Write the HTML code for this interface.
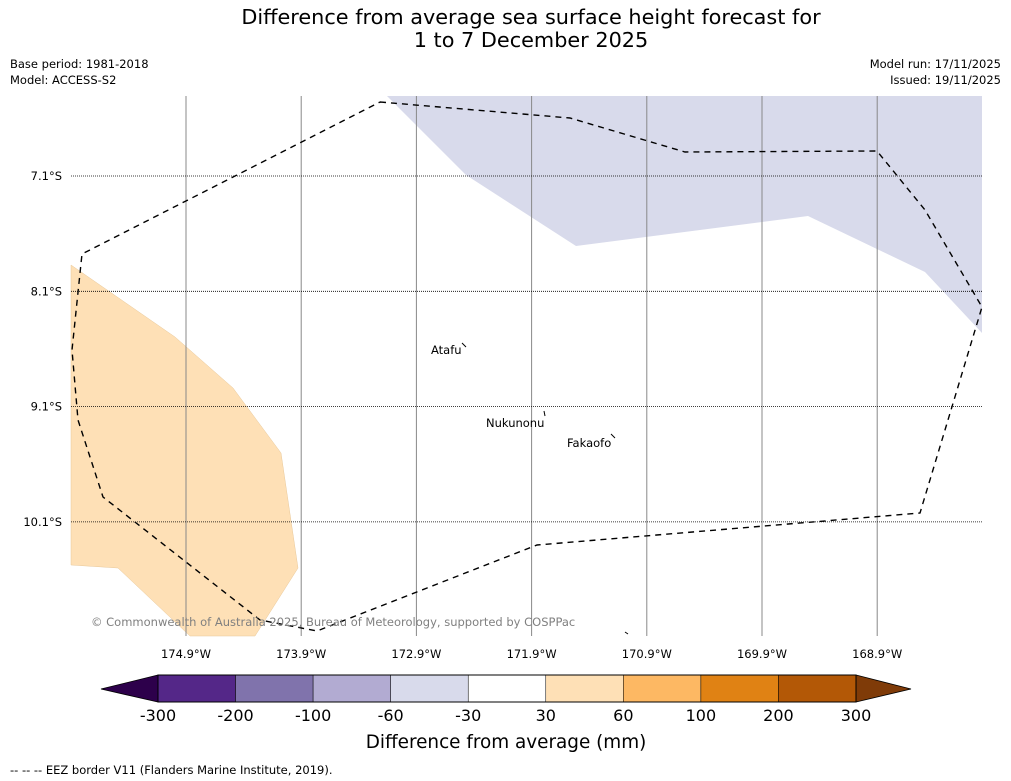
<!DOCTYPE html>
<html><head><meta charset="utf-8"><style>
body{margin:0;background:#fff;}
svg{display:block;font-family:"DejaVu Sans","Liberation Sans",sans-serif;}
</style></head><body>
<svg width="1011" height="781" viewBox="0 0 1011 781" xmlns="http://www.w3.org/2000/svg">
<text x="531" y="24" text-anchor="middle" font-size="20.8">Difference from average sea surface height forecast for</text>
<text x="531" y="47" text-anchor="middle" font-size="20.8">1 to 7 December 2025</text>
<text x="10" y="68" font-size="11.5">Base period: 1981-2018</text>
<text x="10" y="84" font-size="11.5">Model: ACCESS-S2</text>
<text x="1001" y="68" font-size="11.5" text-anchor="end">Model run: 17/11/2025</text>
<text x="1001" y="84" font-size="11.5" text-anchor="end">Issued: 19/11/2025</text>

<g>
<polygon points="387,96 982,96 982,333 925,272 808,216 576,246 466,175" fill="#d8daeb"/>
<polygon points="71,265 110,292 175,337 233,388 281,453 298,568 255,636 190,636 118,568 71,565" fill="#fee0b6" stroke="#e8c89a" stroke-width="0.5"/>
<g id="grid"></g>
<polyline points="380,102 570,118 685,152 877,151 925,210 982,307 920,513 537,545 317,631 260,620 103,497 78,420 72,350 82,254 380,102" fill="none" stroke="#000" stroke-width="1.4" stroke-dasharray="6,5"/>
<text x="431" y="354" font-size="11.5">Atafu</text>
<path d="M462,343 L466,347" stroke="#000"/>
<text x="486" y="427" font-size="11.5">Nukunonu</text>
<path d="M544,411 L545,416" stroke="#000"/>
<text x="567" y="447" font-size="11.5">Fakaofo</text>
<path d="M611,434 L615,438" stroke="#000"/>
<text x="91" y="626" font-size="11.5" fill="#808080">© Commonwealth of Australia 2025, Bureau of Meteorology, supported by COSPPac</text>
<path d="M625,632 L628,634" stroke="#000"/>
</g>
<g id="cbar"></g>
<text x="506" y="748" text-anchor="middle" font-size="18.4">Difference from average (mm)</text>
<text x="10" y="774" font-size="11.5">--  --  -- EEZ border V11 (Flanders Marine Institute, 2019).</text>
</svg>
<script>
const lonLabels=["174.9°W","173.9°W","172.9°W","171.9°W","170.9°W","169.9°W","168.9°W"];
const lonValues=[-174.9,-173.9,-172.9,-171.9,-170.9,-169.9,-168.9];
const latLabels=["7.1°S","8.1°S","9.1°S","10.1°S"];
const latValues=[-7.1,-8.1,-9.1,-10.1];
const cbLevels=[-300,-200,-100,-60,-30,30,60,100,200,300];
const cbColors=["#542788","#8073ac","#b2abd2","#d8daeb","#ffffff","#fee0b6","#fdb863","#e08214","#b35806"];
const NS="http://www.w3.org/2000/svg";
function xLon(v){return 186+(v-(-174.9))*115.2;}
function yLat(v){return 176+(-7.1-v)*115.3;}
function mk(t,a,p){const e=document.createElementNS(NS,t);for(const k in a)e.setAttribute(k,a[k]);p.appendChild(e);return e;}
const g=document.getElementById('grid');
lonValues.forEach((v,i)=>{
 const l=mk('line',{x1:xLon(v),x2:xLon(v),y1:96,y2:636,stroke:'#888','stroke-width':1},g);
 
 
 const t=mk('text',{x:xLon(v),y:658,'text-anchor':'middle','font-size':11.5},g);t.textContent=lonLabels[i];
 
 
});
latValues.forEach((v,i)=>{
 const l=mk('line',{x1:71,x2:982,y1:yLat(v),y2:yLat(v),stroke:'#000','stroke-width':0.8,'stroke-dasharray':'1,1'},g);
 
 
 const t=mk('text',{x:62,y:yLat(v)+4,'text-anchor':'end','font-size':11.5},g);t.textContent=latLabels[i];
 
 
});
const c=document.getElementById('cbar');
const x0=158,x1=856,y0=675,y1=702,n=cbColors.length,w=(x1-x0)/n;
function cx(i){return x0+i*w;}
const lt=mk('polygon',{points:`101,689 ${x0},${y0} ${x0},${y1}`,fill:'#2d004b',stroke:'#000','stroke-width':0.8},c);


const rt=mk('polygon',{points:`911,689 ${x1},${y0} ${x1},${y1}`,fill:'#7f3b08',stroke:'#000','stroke-width':0.8},c);


cbColors.forEach((col,i)=>{
 const r=mk('rect',{x:cx(i),y:y0,width:w,height:y1-y0,fill:col,stroke:'#000','stroke-width':0.5},c);
 
 
});
mk('rect',{x:x0,y:y0,width:x1-x0,height:y1-y0,fill:'none',stroke:'#000','stroke-width':1},c);
cbLevels.forEach((v,i)=>{
 const t=mk('text',{x:cx(i),y:721,'text-anchor':'middle','font-size':16},c);t.textContent=v;
 
 
});
</script>
</body></html>
